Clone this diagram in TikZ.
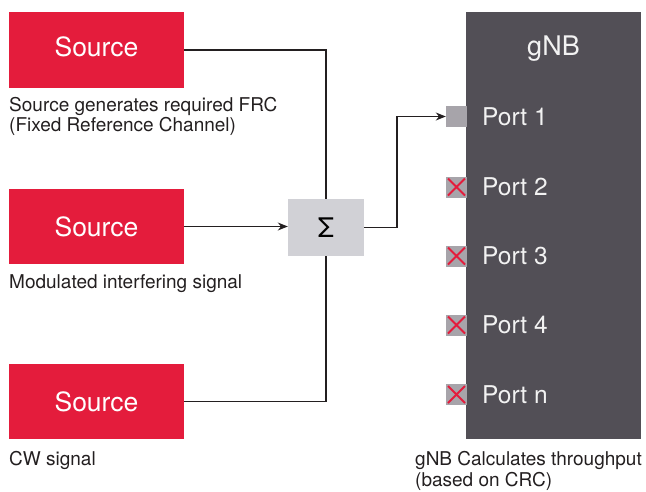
\documentclass[tikz,border=0pt]{standalone}
\usepackage{fontspec}
\setmainfont{TeX Gyre Heros}
\usetikzlibrary{arrows.meta,calc}
\definecolor{srcred}{HTML}{E41C3C}
\definecolor{gnbgray}{HTML}{524F56}
\definecolor{portgray}{HTML}{A7A4AA}
\definecolor{sumgray}{HTML}{D1D1D6}
\definecolor{captext}{HTML}{231F20}
\definecolor{porttext}{HTML}{F2F2F2}
\tikzset{
  src/.style={rectangle, fill=srcred, minimum width=175pt, minimum height=75pt, inner sep=0pt,
    text=white, font=\fontsize{26.5}{30}\selectfont},
  capt/.style={anchor=west, inner sep=0pt, text=captext, align=left,
    font=\fontsize{19}{20.5}\selectfont},
  sumbox/.style={rectangle, fill=sumgray, minimum width=76pt, minimum height=57pt, inner sep=0pt,
    font=\fontsize{27}{30}\selectfont, text=black},
  gnbbox/.style={rectangle, fill=gnbgray, minimum width=175pt, minimum height=427pt, inner sep=0pt},
  portsq/.style={rectangle, fill=portgray, minimum width=21pt, minimum height=21pt, inner sep=0pt},
  portx/.style={portsq, path picture={
    \draw[srcred, line width=2pt]
      ([shift={(2pt,-2pt)}]path picture bounding box.north west) --
      ([shift={(-2pt,2pt)}]path picture bounding box.south east)
      ([shift={(2pt,2pt)}]path picture bounding box.south west) --
      ([shift={(-2pt,-2pt)}]path picture bounding box.north east);}},
  portlbl/.style={anchor=west, inner sep=0pt, text=porttext, font=\fontsize{24.5}{28}\selectfont},
  conn/.style={draw=captext, line width=1.2pt},
  arr/.style={conn, -{Stealth[length=10pt,width=8pt]}}
}
\begin{document}
\begin{tikzpicture}[x=1pt,y=-1pt]
\useasboundingbox (0,0) rectangle (646,491);
% sources
\node[src, minimum height=76pt, text depth=7pt] (src1) at (96.5,50) {Source};
\node[src] (src2) at (96.5,226.5) {Source};
\node[src] (src3) at (96.5,401.5) {Source};
\node[capt] (cap1) at (9,116.5) {Source generates required FRC\\(Fixed Reference Channel)};
\node[capt] (cap2) at (9,284) {Modulated interfering signal};
\node[capt] (cap3) at (9,460) {CW signal};
% sum
\node[sumbox] (sum) at (326,227.5) {Σ};
% gNB
\node[gnbbox] (gnb) at (553.5,225.5) {};
\node[text=porttext, font=\fontsize{27}{30}\selectfont, inner sep=0pt] (gnblbl) at (553.5,48.5) {gNB};
\node[portsq] (p1) at (456.5,116.5) {};
\node[portx] (p2) at (456.5,187) {};
\node[portx] (p3) at (456.5,256) {};
\node[portx] (p4) at (456.5,325) {};
\node[portx] (pn) at (456.5,394.5) {};
\node[portlbl] (l1) at (482,116.5) {Port 1};
\node[portlbl] (l2) at (482,187) {Port 2};
\node[portlbl] (l3) at (482,256) {Port 3};
\node[portlbl] (l4) at (482,325) {Port 4};
\node[portlbl] (ln) at (482,394.5) {Port n};
\node[capt] (cap4) at (415,471) {gNB Calculates throughput\\(based on CRC)};
% connectors
\coordinate (bend) at (397,0);
\draw[conn] (src1.east) -| (sum.north);
\draw[conn] (src3.east) -| (sum.south);
\draw[arr] (src2.east) -- (src2.east -| sum.west);
\draw[arr] (sum.east) -- (sum.east -| bend) |- (p1.west);
\end{tikzpicture}
\end{document}
